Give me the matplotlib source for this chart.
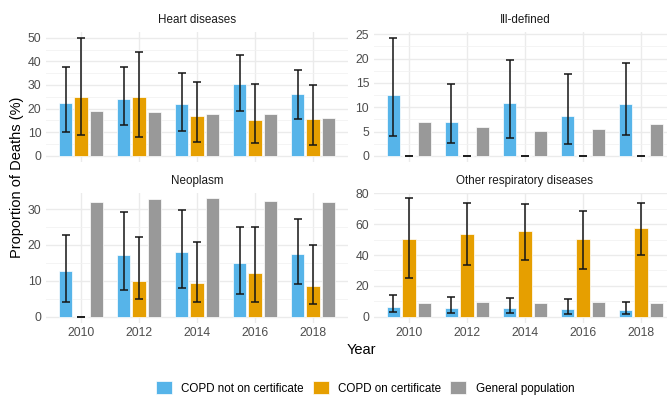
import numpy as np
import matplotlib
matplotlib.use("Agg")
import matplotlib.pyplot as plt
from matplotlib.patches import Patch

plt.rcParams['font.family'] = ['Liberation Sans', 'DejaVu Sans']

years = ['2010', '2012', '2014', '2016', '2018']
groups = ['COPD not on certificate', 'COPD on certificate', 'General population']
colors = ['#56B4E9', '#E69F00', '#999999']

# Heart diseases
heart_not = [22.2, 23.9, 21.8, 30.5, 26.0]
heart_not_lo = [9.9, 12.9, 10.6, 19.1, 15.5]
heart_not_hi = [37.7, 37.6, 35.2, 42.7, 36.2]
heart_on = [24.9, 24.9, 16.7, 15.3, 15.7]
heart_on_lo = [8.9, 8.2, 5.8, 5.4, 4.8]
heart_on_hi = [50.0, 43.8, 31.4, 30.5, 30.2]
heart_gen = [18.8, 18.4, 17.8, 17.8, 16.0]

# Ill-defined
ill_not = [12.6, 6.9, 10.9, 8.3, 10.7]
ill_not_lo = [4.1, 2.6, 3.6, 2.5, 4.3]
ill_not_hi = [24.3, 14.8, 19.7, 16.8, 19.0]
ill_on = [0, 0, 0, 0, 0]
ill_on_lo = [0, 0, 0, 0, 0]
ill_on_hi = [0, 0, 0, 0, 0]
ill_gen = [7.0, 6.0, 5.1, 5.6, 6.6]

# Neoplasm
neo_not = [12.6, 17.1, 18.1, 14.9, 17.4]
neo_not_lo = [4.2, 7.4, 7.9, 6.3, 9.1]
neo_not_hi = [22.9, 29.1, 29.7, 25.1, 27.2]
neo_on = [0, 10.0, 9.4, 12.2, 8.6]
neo_on_lo = [0, 4.8, 4.0, 4.2, 3.6]
neo_on_hi = [0, 22.2, 20.9, 25.1, 19.9]
neo_gen = [32.1, 32.8, 33.0, 32.4, 32.0]

# Other respiratory diseases
resp_not = [6.3, 5.6, 5.6, 4.8, 4.3]
resp_not_lo = [3.2, 2.6, 2.4, 1.9, 1.7]
resp_not_hi = [13.8, 12.8, 12.3, 11.7, 9.5]
resp_on = [50.2, 53.4, 55.8, 50.2, 57.3]
resp_on_lo = [25.1, 33.5, 37.0, 30.9, 40.0]
resp_on_hi = [76.8, 73.7, 73.1, 68.5, 73.7]
resp_gen = [8.9, 9.3, 8.9, 9.3, 9.1]

W, H = 667, 396


def px_axes(fig, x0, y0, x1, y1):
    # pixel box (top-left origin) -> figure fraction
    return fig.add_axes([x0 / W, 1 - y1 / H, (x1 - x0) / W, (y1 - y0) / H])


def draw_panel(ax, title, step, not_v, not_lo, not_hi, on_v, on_lo, on_hi, gen_v, show_x):
    x = np.arange(1, len(years) + 1)
    dodge = 0.8 / 3
    width = 0.7 / 3
    series = [(not_v, not_lo, not_hi), (on_v, on_lo, on_hi), (gen_v, None, None)]
    for i, (vals, lo, hi) in enumerate(series):
        xs = x + (i - 1) * dodge
        ax.bar(xs, vals, width=width, color=colors[i], edgecolor='#FFFFFF',
               linewidth=0.5, zorder=2)
        if lo is not None:
            vals = np.array(vals)
            err = [vals - np.array(lo), np.array(hi) - vals]
            ax.errorbar(xs, vals, yerr=err, fmt='none', ecolor='#151515',
                        elinewidth=1.1, capsize=2.8, capthick=1.1, zorder=3)

    # free y scale, ggplot style 5% expansion
    allv = np.concatenate([not_v, not_hi, on_v, on_hi, gen_v, [0]])
    top = allv.max()
    pad = top * 0.05
    ax.set_ylim(-pad, top + pad)
    ax.set_xlim(0.4, len(years) + 0.6)

    ax.set_yticks(np.arange(0, top + pad + 1e-9, step))
    ax.set_yticks(np.arange(step / 2, top + pad, step), minor=True)
    ax.set_xticks(x)
    ax.set_xticklabels(years if show_x else [])
    ax.grid(True, which='major', color='#EBEBEB', lw=1.0, zorder=0)
    ax.grid(True, which='minor', axis='y', color='#F2F2F2', lw=0.6, zorder=0)
    ax.tick_params(length=0, labelsize=8.8, labelcolor='#4D4D4D', pad=3.5)
    ax.tick_params(which='minor', length=0)
    for s in ax.spines.values():
        s.set_visible(False)
    ax.set_axisbelow(True)
    ax.set_title(title, fontsize=8.4, color='#1A1A1A', pad=6)


fig = plt.figure(figsize=(W / 100, H / 100), dpi=100)

ax1 = px_axes(fig, 46.2, 31.8, 348, 161.8)
draw_panel(ax1, 'Heart diseases', 10, heart_not, heart_not_lo, heart_not_hi,
           heart_on, heart_on_lo, heart_on_hi, heart_gen, False)

ax2 = px_axes(fig, 374, 31.8, 676, 161.8)
draw_panel(ax2, 'Ill-defined', 5, ill_not, ill_not_lo, ill_not_hi,
           ill_on, ill_on_lo, ill_on_hi, ill_gen, False)

ax3 = px_axes(fig, 46.2, 192.5, 348, 322.5)
draw_panel(ax3, 'Neoplasm', 10, neo_not, neo_not_lo, neo_not_hi,
           neo_on, neo_on_lo, neo_on_hi, neo_gen, True)

ax4 = px_axes(fig, 374, 192.5, 676, 322.5)
draw_panel(ax4, 'Other respiratory diseases', 20, resp_not, resp_not_lo, resp_not_hi,
           resp_on, resp_on_lo, resp_on_hi, resp_gen, True)

fig.text(361.7 / W, 1 - 350 / H, 'Year', ha='center', va='center', fontsize=10.5, color='black')
fig.text(17 / W, 1 - 177 / H, 'Proportion of Deaths (%)', ha='center', va='center',
         rotation=90, fontsize=10.5, color='black')

handles = [Patch(facecolor=c, edgecolor='#FFFFFF', linewidth=0.5) for c in colors]
fig.legend(handles, groups, loc='center', bbox_to_anchor=(365 / W, 1 - 388 / H), ncol=3,
           frameon=False, fontsize=8.4, handlelength=1.35, handleheight=1.25,
           handletextpad=0.8, columnspacing=0.8, borderpad=0)

fig.savefig('out.png', dpi=100, facecolor='white')
